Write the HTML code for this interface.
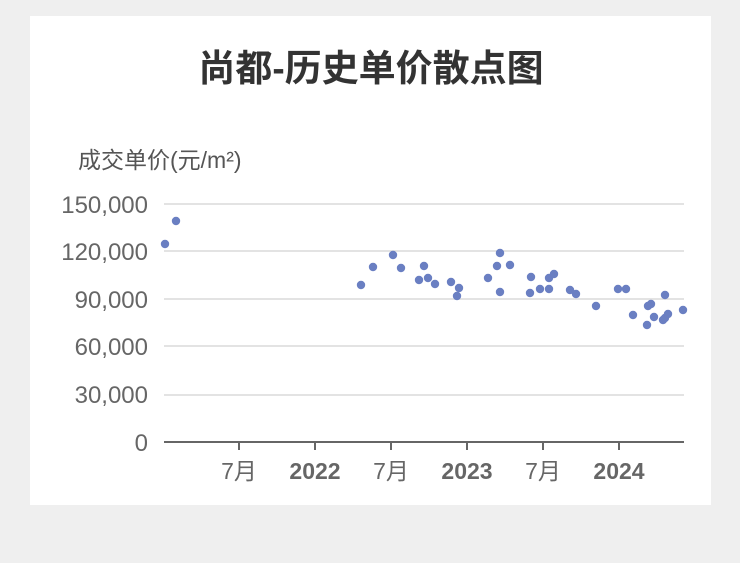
<!DOCTYPE html>
<html><head><meta charset="utf-8"><style>
html,body{margin:0;padding:0;background:#efefef;width:740px;height:563px;overflow:hidden}
</style></head><body>
<svg width="740" height="563" xmlns="http://www.w3.org/2000/svg" style="position:absolute;left:0;top:0">
<rect x="0" y="0" width="740" height="563" fill="#efefef"/>
<rect x="30" y="16" width="681" height="489" fill="#ffffff"/>
<text x="371" y="81" text-anchor="middle" font-family="Liberation Sans, Noto Sans CJK SC, sans-serif" font-size="37" font-weight="bold" fill="#333">尚都-历史单价散点图</text>
<text x="78" y="168" font-family="Liberation Sans, Noto Sans CJK SC, sans-serif" font-size="23" fill="#555">成交单价(元/m²)</text>
<g stroke="#e3e3e3" stroke-width="2">
<line x1="164" x2="684" y1="204" y2="204"/>
<line x1="164" x2="684" y1="251" y2="251"/>
<line x1="164" x2="684" y1="299" y2="299"/>
<line x1="164" x2="684" y1="346" y2="346"/>
<line x1="164" x2="684" y1="395" y2="395"/>
</g>
<line x1="164" x2="684" y1="442" y2="442" stroke="#666" stroke-width="2"/>
<g stroke="#666" stroke-width="2">
<line x1="239" x2="239" y1="442" y2="450"/><line x1="315" x2="315" y1="442" y2="450"/>
<line x1="391" x2="391" y1="442" y2="450"/><line x1="467" x2="467" y1="442" y2="450"/>
<line x1="543" x2="543" y1="442" y2="450"/><line x1="619" x2="619" y1="442" y2="450"/>
</g>
<g font-family="Liberation Sans, Noto Sans CJK SC, sans-serif" font-size="24" fill="#666" text-anchor="end">
<text x="148" y="213">150,000</text><text x="148" y="260">120,000</text><text x="148" y="308">90,000</text>
<text x="148" y="355">60,000</text><text x="148" y="403">30,000</text><text x="148" y="451">0</text>
</g>
<g font-family="Liberation Sans, Noto Sans CJK SC, sans-serif" font-size="23" fill="#666" text-anchor="middle">
<text x="239" y="479">7月</text><text x="315" y="479" font-weight="bold">2022</text>
<text x="391" y="479">7月</text><text x="467" y="479" font-weight="bold">2023</text>
<text x="543" y="479">7月</text><text x="619" y="479" font-weight="bold">2024</text>
</g>
<g fill="#6a7fc2">
<circle cx="165" cy="244" r="4.2"/><circle cx="176" cy="221" r="4.2"/><circle cx="361" cy="285" r="4.2"/>
<circle cx="373" cy="267" r="4.2"/><circle cx="393" cy="255" r="4.2"/><circle cx="401" cy="268" r="4.2"/>
<circle cx="419" cy="280" r="4.2"/><circle cx="424" cy="266" r="4.2"/><circle cx="428" cy="278" r="4.2"/>
<circle cx="435" cy="284" r="4.2"/><circle cx="451" cy="282" r="4.2"/><circle cx="459" cy="288" r="4.2"/>
<circle cx="457" cy="296" r="4.2"/><circle cx="488" cy="278" r="4.2"/><circle cx="497" cy="266" r="4.2"/>
<circle cx="500" cy="253" r="4.2"/><circle cx="500" cy="292" r="4.2"/><circle cx="510" cy="265" r="4.2"/>
<circle cx="531" cy="277" r="4.2"/><circle cx="530" cy="293" r="4.2"/><circle cx="540" cy="289" r="4.2"/>
<circle cx="549" cy="289" r="4.2"/><circle cx="549" cy="278" r="4.2"/><circle cx="554" cy="274" r="4.2"/>
<circle cx="570" cy="290" r="4.2"/><circle cx="576" cy="294" r="4.2"/><circle cx="596" cy="306" r="4.2"/>
<circle cx="618" cy="289" r="4.2"/><circle cx="626" cy="289" r="4.2"/><circle cx="633" cy="315" r="4.2"/>
<circle cx="647" cy="325" r="4.2"/><circle cx="648" cy="306" r="4.2"/><circle cx="651" cy="304" r="4.2"/>
<circle cx="654" cy="317" r="4.2"/><circle cx="665" cy="295" r="4.2"/><circle cx="663" cy="320" r="4.2"/>
<circle cx="665" cy="318" r="4.2"/><circle cx="668" cy="314" r="4.2"/><circle cx="683" cy="310" r="4.2"/>
</g>
</svg>
</body></html>
